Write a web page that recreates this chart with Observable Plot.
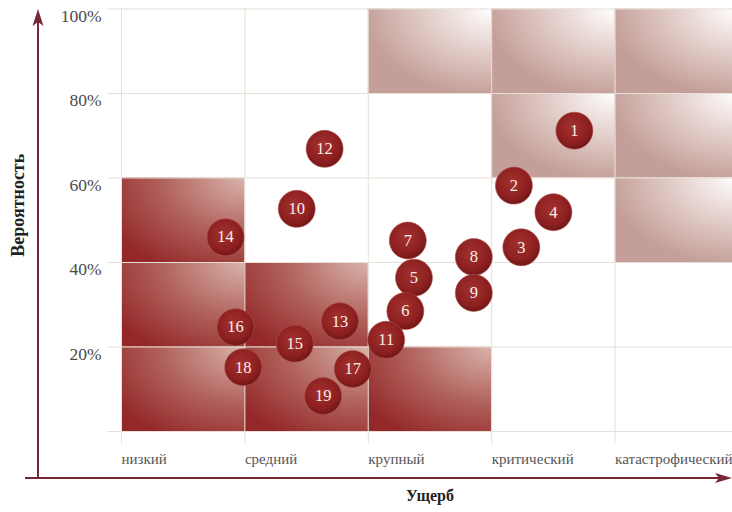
<!DOCTYPE html>
<html><head><meta charset="utf-8">
<script src="https://cdn.jsdelivr.net/npm/d3@7"></script>
<script src="https://cdn.jsdelivr.net/npm/@observablehq/plot@0.6"></script>
<style>body{margin:0;background:#fff;overflow:hidden} #chart svg{display:block}</style>
</head><body><div id="chart"></div>
<script>
// ---- data ----
const categories = ["низкий", "средний", "крупный", "критический", "катастрофический"];
const probTicks = [20, 40, 60, 80, 100];
const gridY = [0, 20, 40, 60, 80, 100];
const gridX = [0, 1, 2, 3, 4, 5];
const riskIds    = [1, 2, 3, 4, 5, 6, 7, 8, 9, 10, 11, 12, 13, 14, 15, 16, 17, 18, 19];
const riskImpact = [3.67, 3.18, 3.24, 3.50, 2.37, 2.30, 2.32, 2.855, 2.855, 1.42, 2.145, 1.646, 1.77, 0.843, 1.404, 0.924, 1.874, 0.986, 1.634];
const riskProb   = [71.2, 58.2, 43.6, 51.9, 36.4, 28.5, 45.2, 41.3, 32.8, 52.7, 21.7, 66.9, 26.1, 46.0, 20.8, 24.7, 14.8, 15.2, 8.4];
const highCols = [0, 1, 2, 0, 1, 0];
const highRows = [0, 0, 0, 1, 1, 2];
const lowCols  = [2, 3, 4, 3, 4, 4];
const lowRows  = [4, 4, 4, 3, 3, 2];
const xLabel = "Ущерб";
const yLabel = "Вероятность";

// ---- build ----
const serif = "'Liberation Serif','DejaVu Serif',serif";
const risks = riskIds.map((id, i) => ({id, impact: riskImpact[i], prob: riskProb[i]}));
const high = highCols.map((c, i) => ({c, r: highRows[i]}));
const low = lowCols.map((c, i) => ({c, r: lowRows[i]}));
const cell = {x1: d => d.c, x2: d => d.c + 1, y1: d => d.r * 20, y2: d => d.r * 20 + 20};

const plot = Plot.plot({
  width: 732, height: 512,
  marginLeft: 121, marginRight: -6, marginTop: 8.5, marginBottom: 81,
  x: {domain: [0, 5], range: [121, 738], label: null},
  y: {domain: [0, 100], range: [431, 8.5], label: null},
  style: {background: "#fff", fontFamily: serif},
  marks: [
    Plot.rect(high, {...cell, fill: "url(#cellHigh)"}),
    Plot.rect(low, {...cell, fill: "url(#cellLow)"}),
    Plot.ruleY(gridY, {x1: -0.11, x2: 5, stroke: "#e6e0d6"}),
    Plot.ruleX(gridX, {y1: -3, y2: 100, stroke: "#e6e0d6"}),
    Plot.axisY({ticks: probTicks, tickFormat: d => d + "%", tickSize: 0, tickPadding: 20, fontSize: 17.5, color: "#4a4a4a", dy: 7, label: null}),
    Plot.axisX({ticks: [0, 1, 2, 3, 4], tickFormat: i => categories[i], tickSize: 0, tickPadding: 22, textAnchor: "start", fontSize: 15, color: "#555", label: null}),
    Plot.dot(risks, {x: "impact", y: "prob", r: 18.5, fill: "url(#bubble)", stroke: "#b0504a", strokeWidth: 0.6}),
    Plot.text(risks, {x: "impact", y: "prob", text: "id", fill: "#fbeee8", fontSize: 16.5}),
    Plot.text([yLabel], {text: d => d, frameAnchor: "left", textAnchor: "middle", rotate: -90, dx: -103, dy: -15, fontWeight: "bold", fontSize: 18, fill: "#222"}),
    Plot.text([xLabel], {text: d => d, frameAnchor: "bottom", textAnchor: "middle", dy: 69, fontWeight: "bold", fontSize: 16, fill: "#222"})
  ]
});

const svg = d3.select(plot);
const defs = svg.insert("defs", ":first-child");
const hg = defs.append("radialGradient").attr("id", "cellHigh").attr("cx", 1).attr("cy", 0).attr("r", 1.25);
hg.append("stop").attr("offset", "0").attr("stop-color", "#d8b4ac");
hg.append("stop").attr("offset", "0.55").attr("stop-color", "#b0605a");
hg.append("stop").attr("offset", "1").attr("stop-color", "#93272a");
const lg = defs.append("radialGradient").attr("id", "cellLow").attr("cx", 1).attr("cy", 0).attr("r", 1.05);
lg.append("stop").attr("offset", "0").attr("stop-color", "#ffffff");
lg.append("stop").attr("offset", "0.5").attr("stop-color", "#e2cdc9");
lg.append("stop").attr("offset", "1").attr("stop-color", "#c49e98");
const bg = defs.append("radialGradient").attr("id", "bubble").attr("cx", 0.45).attr("cy", 0.4).attr("r", 0.6);
bg.append("stop").attr("offset", "0").attr("stop-color", "#a3322f");
bg.append("stop").attr("offset", "0.75").attr("stop-color", "#8c1f20");
bg.append("stop").attr("offset", "1").attr("stop-color", "#701617");

// axis arrows (decoration)
const axisColor = "#772838";
const g = svg.append("g").attr("fill", axisColor).attr("stroke", axisColor);
g.append("line").attr("x1", 38).attr("x2", 38).attr("y1", 478).attr("y2", 20).attr("stroke-width", 2);
g.append("path").attr("stroke", "none").attr("d", "M38,9 L43.5,26 L38,22 L32.5,26 Z");
g.append("line").attr("x1", 25).attr("x2", 722).attr("y1", 478).attr("y2", 478).attr("stroke-width", 2);
g.append("path").attr("stroke", "none").attr("d", "M732,478 L715,473 L719,478 L715,483 Z");

document.getElementById("chart").append(plot);
</script>
</body></html>
